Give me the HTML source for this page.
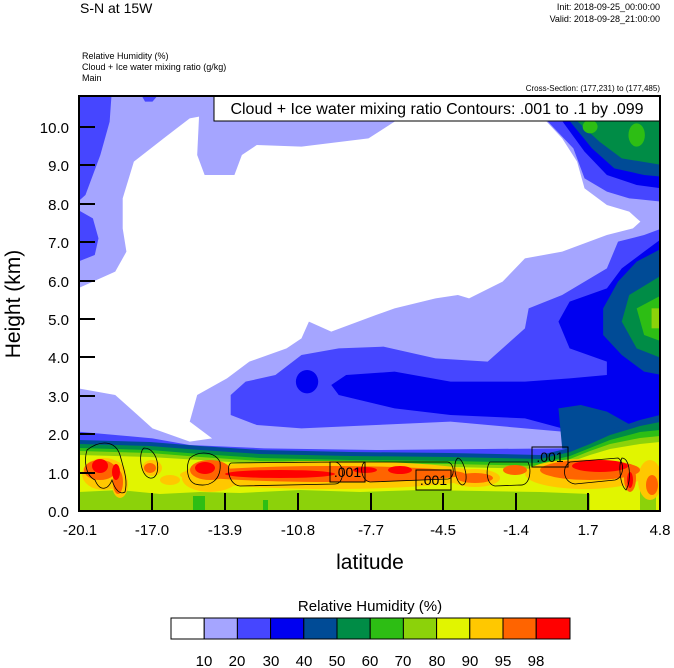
<!DOCTYPE html>
<html><head><meta charset="utf-8"><style>
html,body{margin:0;padding:0;background:#fff;}
svg{display:block;font-family:"Liberation Sans",sans-serif;}
</style></head><body>
<svg width="674" height="668" viewBox="0 0 674 668" xmlns="http://www.w3.org/2000/svg">
<defs><clipPath id="pc"><rect x="79" y="96" width="581" height="415"/></clipPath></defs>
<text x="80" y="13" font-size="14">S-N at 15W</text>
<text x="660" y="10" font-size="9" text-anchor="end">Init: 2018-09-25_00:00:00</text>
<text x="660" y="22" font-size="9" text-anchor="end">Valid: 2018-09-28_21:00:00</text>
<text x="82" y="59" font-size="9">Relative Humidity   (%)</text>
<text x="82" y="70" font-size="9">Cloud + Ice water mixing ratio   (g/kg)</text>
<text x="82" y="81" font-size="9">Main</text>
<text x="660" y="91" font-size="8" text-anchor="end">Cross-Section: (177,231) to (177,485)</text>
<g clip-path="url(#pc)">
<svg x="78" y="95" width="584" height="418" viewBox="0 0 1568 1254" preserveAspectRatio="none">
<rect x="0" y="0" width="1568" height="1254" fill="#a5a5ff"/>
<path d="M0,0 L90,0 L85,80 L60,180 L20,300 L0,320Z M170,0 L215,0 L200,20 L180,20Z M0,345 L40,370 L55,430 L45,480 L0,500Z" fill="#4646ff"/>
<path d="M120,310 L150,200 L230,130 L300,70 L325,65 L320,180 L340,240 L420,240 L440,180 L480,150 L600,155 L780,130 L850,80 L860,70 L1250,70 L1300,130 L1340,200 L1360,280 L1420,330 L1480,350 L1510,380 L1490,400 L1420,420 L1300,470 L1200,490 L1140,560 L1050,610 L1020,600 L960,610 L850,640 L800,660 L680,710 L620,680 L600,730 L560,760 L460,800 L400,850 L320,900 L300,980 L360,1030 L300,1040 L200,1000 L150,950 L100,900 L0,880 L0,580 L100,530 L130,470 L120,400Z" fill="#fff"/>
<path d="M410,960 L410,900 L450,860 L530,840 L600,780 L700,760 L820,755 L960,790 L1100,800 L1200,700 L1210,640 L1300,600 L1420,520 L1450,440 L1520,420 L1568,400 L1568,1060 L1310,1040 L1300,1010 L1200,1000 L1000,980 L800,990 L600,1000 L480,990Z" fill="#4646ff"/>
<path d="M0,1010 L200,1030 L300,1050 L500,1060 L800,1065 L1300,1060 L1568,1060 L1568,1100 L0,1100Z" fill="#4646ff"/>
<path d="M1260,78 L1330,160 L1360,250 L1420,290 L1480,310 L1568,320 L1568,78Z" fill="#4646ff"/>
<path d="M680,870 L720,840 L850,830 L1000,860 L1200,860 L1320,850 L1420,840 L1420,800 L1320,760 L1290,680 L1320,620 L1420,580 L1460,520 L1520,470 L1568,430 L1568,1060 L1400,1040 L1300,1000 L1200,970 L1000,960 L850,940 L700,900Z" fill="#0000f0"/>
<ellipse cx="615" cy="860" rx="30" ry="35" fill="#0000f0"/>
<path d="M1300,78 L1360,170 L1420,240 L1500,270 L1568,280 L1568,78Z" fill="#0000f0"/>
<path d="M1568,460 L1500,500 L1450,560 L1410,640 L1410,720 L1460,780 L1520,830 L1568,840Z M1290,940 L1350,930 L1420,950 L1500,1000 L1568,1000 L1568,1080 L1300,1060Z" fill="#004b96"/>
<path d="M1320,78 L1380,160 L1440,220 L1520,240 L1568,245 L1568,78Z" fill="#004b96"/>
<path d="M1340,78 L1400,140 L1460,190 L1568,210 L1568,78Z" fill="#008c46"/>
<path d="M1568,540 L1480,600 L1460,680 L1500,760 L1568,790Z" fill="#008c46"/>
<path d="M1568,600 L1500,640 L1520,720 L1568,740Z" fill="#2dbe14"/>
<rect x="1540" y="640" width="30" height="60" fill="#8cd20a"/>
<ellipse cx="1375" cy="95" rx="20" ry="20" fill="#2dbe14"/>
<ellipse cx="1500" cy="120" rx="22" ry="35" fill="#2dbe14"/>
</svg>
<path d="M79,440 L150,442 L200,446 L260,450 L350,452 L450,453 L540,455 L570,448 L590,440 L610,430 L640,420 L660,415 L660,511 L79,511Z" fill="#004b96"/>
<path d="M79,444 L150,446 L200,450 L260,454 L350,456 L450,457 L540,459 L570,452 L590,444 L610,435 L640,426 L660,422 L660,511 L79,511Z" fill="#008c46"/>
<path d="M79,448 L150,450 L200,454 L260,458 L350,460 L450,461 L540,463 L570,456 L590,448 L610,440 L640,432 L660,430 L660,511 L79,511Z" fill="#2dbe14"/>
<path d="M79,451 L150,453 L200,457 L260,461 L350,463 L450,464 L540,466 L570,459 L590,451 L610,444 L640,438 L660,436 L660,511 L79,511Z" fill="#8cd20a"/>
<path d="M79,455 L150,457 L200,460 L260,464 L350,466 L450,467 L540,469 L570,462 L590,455 L610,449 L640,444 L660,442 L660,511 L79,511Z" fill="#e1f500"/>
<path d="M79,492 L120,490 L160,494 L200,492 L240,493 L300,490 L360,492 L420,490 L480,491 L540,492 L590,494 L590,511 L79,511Z" fill="#8cd20a"/>
<rect x="640" y="490" width="16" height="21" fill="#8cd20a"/>
<rect x="193" y="496" width="12" height="15" fill="#2dbe14"/>
<rect x="263" y="500" width="5" height="11" fill="#2dbe14"/>
<g fill="#ffc800">
<ellipse cx="104" cy="474" rx="22" ry="16"/><ellipse cx="120" cy="484" rx="8" ry="14"/>
<ellipse cx="152" cy="468" rx="10" ry="8"/><ellipse cx="170" cy="480" rx="10" ry="5"/>
<ellipse cx="330" cy="475" rx="150" ry="14"/><ellipse cx="210" cy="478" rx="28" ry="14"/>
<ellipse cx="475" cy="478" rx="25" ry="9"/><ellipse cx="585" cy="474" rx="60" ry="15"/>
<ellipse cx="650" cy="480" rx="12" ry="20"/>
</g>
<g fill="#ff6400">
<ellipse cx="100" cy="470" rx="16" ry="10"/><ellipse cx="118" cy="482" rx="5" ry="12"/>
<ellipse cx="150" cy="468" rx="6" ry="5"/>
<ellipse cx="330" cy="474" rx="135" ry="8"/><ellipse cx="210" cy="470" rx="20" ry="10"/>
<ellipse cx="475" cy="478" rx="18" ry="5"/><ellipse cx="515" cy="470" rx="12" ry="5"/>
<ellipse cx="590" cy="470" rx="50" ry="10"/><ellipse cx="630" cy="478" rx="6" ry="14"/>
<ellipse cx="652" cy="485" rx="6" ry="10"/>
</g>
<g fill="#ff0000">
<ellipse cx="100" cy="466" rx="8" ry="7"/><ellipse cx="116" cy="472" rx="4" ry="8"/>
<ellipse cx="205" cy="468" rx="10" ry="6"/><ellipse cx="280" cy="474" rx="55" ry="4"/>
<ellipse cx="365" cy="470" rx="12" ry="3"/><ellipse cx="400" cy="470" rx="12" ry="4"/>
<ellipse cx="600" cy="466" rx="28" ry="6"/><ellipse cx="630" cy="480" rx="3" ry="8"/>
</g>
<g fill="none" stroke="#000" stroke-width="0.8">
<path d="M87,450 C100,440 115,440 120,455 C124,470 128,480 125,492 C120,495 115,490 112,480 C108,490 100,492 95,480 C85,475 84,460 87,450Z"/>
<path d="M144,448 C160,448 162,480 150,478 C140,476 138,452 144,448Z"/>
<path d="M190,458 C200,450 215,452 220,462 C222,480 210,488 195,484 C186,480 186,465 190,458Z"/>
<path d="M231,463 L335,462 C345,463 345,484 335,484 L240,486 C228,485 226,465 231,463Z"/>
<path d="M365,462 L448,462 C455,464 455,478 448,479 L370,482 C360,480 360,464 365,462Z"/>
<path d="M458,458 C465,460 470,485 462,485 C455,482 452,462 458,458Z"/>
<path d="M490,462 L528,462 C532,470 530,486 520,485 L495,486 C485,484 486,466 490,462Z"/>
<path d="M570,462 L618,458 C625,462 624,478 615,480 L575,484 C562,482 562,466 570,462Z"/>
<path d="M622,458 C630,458 632,480 626,490 C620,485 618,465 622,458Z"/>
</g>
</g>
<g font-size="12">
<rect x="330" y="462" width="35" height="20" fill="none" stroke="#000" stroke-width="1"/>
<text x="347.5" y="477" text-anchor="middle" font-size="14">.001</text>
<rect x="416" y="470" width="35" height="20" fill="none" stroke="#000" stroke-width="1"/>
<text x="433.5" y="485" text-anchor="middle" font-size="14">.001</text>
<rect x="532" y="447" width="36" height="20" fill="none" stroke="#000" stroke-width="1"/>
<text x="550" y="462" text-anchor="middle" font-size="14">.001</text>
</g>
<rect x="214" y="96" width="446" height="25" fill="#fff" stroke="#000" stroke-width="1"/>
<text x="437" y="114" font-size="16" text-anchor="middle">Cloud + Ice water mixing ratio Contours: .001 to .1 by .099</text>
<rect x="79" y="96" width="581" height="415" fill="none" stroke="#000" stroke-width="2"/>
<g stroke="#000" stroke-width="2">
<line x1="79" y1="127" x2="95" y2="127"/><line x1="79" y1="165" x2="95" y2="165"/><line x1="79" y1="204" x2="95" y2="204"/><line x1="79" y1="242" x2="95" y2="242"/><line x1="79" y1="281" x2="95" y2="281"/><line x1="79" y1="319" x2="95" y2="319"/><line x1="79" y1="357" x2="95" y2="357"/><line x1="79" y1="396" x2="95" y2="396"/><line x1="79" y1="434" x2="95" y2="434"/><line x1="79" y1="473" x2="95" y2="473"/>
<line x1="152" y1="511" x2="152" y2="493"/><line x1="225" y1="511" x2="225" y2="493"/><line x1="298" y1="511" x2="298" y2="493"/><line x1="371" y1="511" x2="371" y2="493"/><line x1="443" y1="511" x2="443" y2="493"/><line x1="516" y1="511" x2="516" y2="493"/><line x1="588" y1="511" x2="588" y2="493"/>
</g>
<g font-size="15" text-anchor="end">
<text x="69" y="133">10.0</text><text x="69" y="171">9.0</text><text x="69" y="210">8.0</text><text x="69" y="248">7.0</text><text x="69" y="287">6.0</text><text x="69" y="325">5.0</text><text x="69" y="363">4.0</text><text x="69" y="402">3.0</text><text x="69" y="440">2.0</text><text x="69" y="479">1.0</text><text x="69" y="517">0.0</text>
</g>
<g font-size="15" text-anchor="middle">
<text x="80" y="535">-20.1</text><text x="152" y="535">-17.0</text><text x="225" y="535">-13.9</text><text x="298" y="535">-10.8</text><text x="371" y="535">-7.7</text><text x="443" y="535">-4.5</text><text x="516" y="535">-1.4</text><text x="588" y="535">1.7</text><text x="660" y="535">4.8</text>
</g>
<text x="370" y="569" font-size="21" text-anchor="middle">latitude</text>
<text transform="translate(20,304) rotate(-90)" font-size="21" text-anchor="middle">Height (km)</text>
<text x="370" y="611" font-size="15" text-anchor="middle">Relative Humidity  (%)</text>
<g stroke="#000" stroke-width="1">
<rect x="171" y="618" width="33.2" height="21" fill="#ffffff"/>
<rect x="204.2" y="618" width="33.2" height="21" fill="#a5a5ff"/>
<rect x="237.4" y="618" width="33.2" height="21" fill="#4646ff"/>
<rect x="270.6" y="618" width="33.2" height="21" fill="#0000f0"/>
<rect x="303.8" y="618" width="33.2" height="21" fill="#004b96"/>
<rect x="337" y="618" width="33.2" height="21" fill="#008c46"/>
<rect x="370.2" y="618" width="33.2" height="21" fill="#2dbe14"/>
<rect x="403.4" y="618" width="33.2" height="21" fill="#8cd20a"/>
<rect x="436.6" y="618" width="33.2" height="21" fill="#e1f500"/>
<rect x="469.8" y="618" width="33.2" height="21" fill="#ffc800"/>
<rect x="503" y="618" width="33.2" height="21" fill="#ff6400"/>
<rect x="536.2" y="618" width="33.8" height="21" fill="#ff0000"/>
</g>
<g font-size="15" text-anchor="middle">
<text x="204" y="666">10</text><text x="237" y="666">20</text><text x="271" y="666">30</text><text x="304" y="666">40</text><text x="337" y="666">50</text><text x="370" y="666">60</text><text x="403" y="666">70</text><text x="437" y="666">80</text><text x="470" y="666">90</text><text x="503" y="666">95</text><text x="536" y="666">98</text>
</g>
</svg>
</body></html>
